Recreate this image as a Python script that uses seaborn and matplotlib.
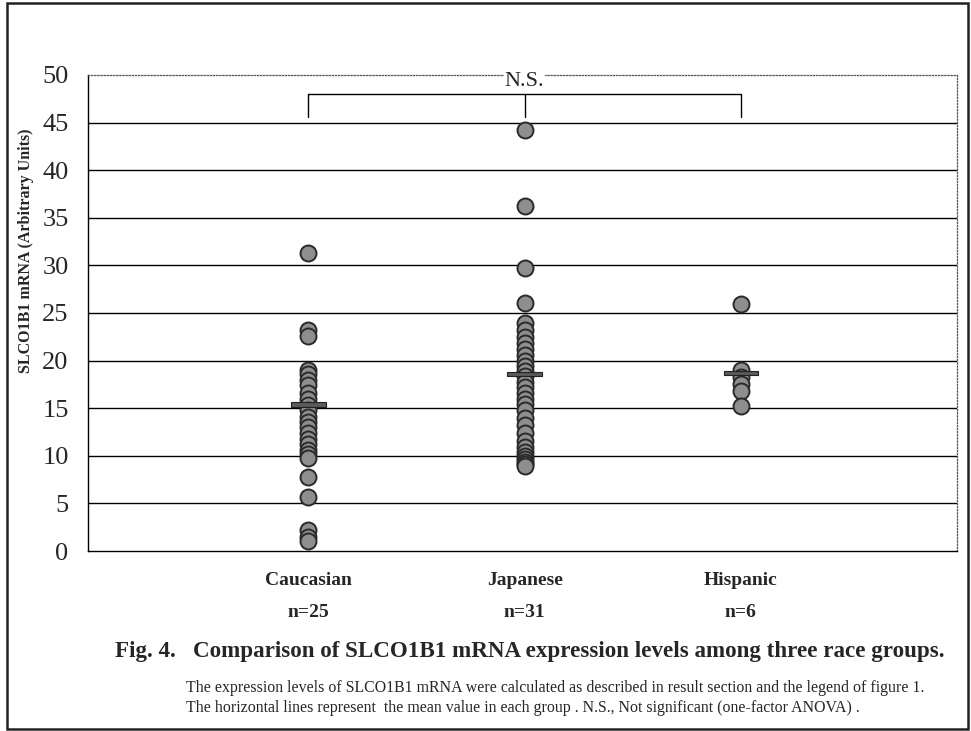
import matplotlib
matplotlib.use("Agg")
import matplotlib.pyplot as plt
import seaborn as sns
import pandas as pd
from matplotlib.patches import Rectangle

# Expression values per group (arbitrary units)
groups = ["Caucasian", "Japanese", "Hispanic"]
group_n = ["n=25", "n=31", "n=6"]
caucasian = [31.3, 23.2, 22.6, 19.0, 18.6, 18.0, 17.4, 16.6, 16.0, 15.3,
             14.8, 14.1, 13.5, 13.0, 12.4, 11.8, 11.2, 10.6, 10.2, 9.8,
             7.8, 5.7, 2.2, 1.5, 1.0]
japanese = [44.2, 36.2, 29.7, 26.0, 24.0, 23.2, 22.5, 21.8, 21.2, 20.6,
            20.0, 19.4, 18.9, 18.4, 17.8, 17.2, 16.6, 16.0, 15.4, 14.8,
            14.0, 13.2, 12.4, 11.6, 10.9, 10.4, 10.0, 9.7, 9.4, 9.1, 8.9]
hispanic = [25.9, 19.0, 18.3, 17.5, 16.8, 15.2]
group_means = [15.4, 18.6, 18.7]
y_ticks = [0, 5, 10, 15, 20, 25, 30, 35, 40, 45, 50]

df = pd.DataFrame({
    "group": ["Caucasian"] * len(caucasian) + ["Japanese"] * len(japanese)
             + ["Hispanic"] * len(hispanic),
    "value": caucasian + japanese + hispanic,
})

sns.set_theme(style="white")
plt.rcParams["font.family"] = ["Liberation Serif", "DejaVu Serif"]

fig = plt.figure(figsize=(9.71, 7.31), dpi=100)
ax = fig.add_axes([88 / 971, 1 - 551 / 731, (957 - 88) / 971, (551 - 75) / 731])

# horizontal grid lines at every tick
for t in y_ticks[1:-1]:
    ax.axhline(t, color="black", lw=1.0, zorder=1)

sns.stripplot(data=df, x="group", y="value", order=groups, jitter=False,
              size=11.5, color="#8e8e8e", edgecolor="#2a2a2a", linewidth=1.4,
              ax=ax, zorder=3)

# mean bars
for i, m in enumerate(group_means):
    ax.add_patch(Rectangle((i - 0.08, m - 0.25), 0.16, 0.5,
                           facecolor="#5a5a5a", edgecolor="#222222",
                           lw=0.8, zorder=5))

ax.set_ylim(0, 50)
ax.set_xlim(-1.02, 3.0)
ax.set_yticks(y_ticks)
ax.set_yticklabels([str(t) for t in y_ticks], fontsize=19)
ax.set_xticks(range(len(groups)))
ax.set_xticklabels([f"{g}\n{n}" for g, n in zip(groups, group_n)],
                   fontsize=14, fontweight="bold", linespacing=2.2)
ax.tick_params(axis="y", length=0, pad=14)
ax.tick_params(axis="x", length=0, pad=15)
ax.set_xlabel("")
ax.set_ylabel("SLCO1B1 mRNA (Arbitrary Units)", fontsize=11.5,
              fontweight="bold")
ax.yaxis.set_label_coords(-0.062, 0.63)

for side in ["left", "bottom"]:
    ax.spines[side].set_color("black")
    ax.spines[side].set_linewidth(1.0)
for side in ["top", "right"]:
    ax.spines[side].set_color("#555555")
    ax.spines[side].set_linewidth(0.9)
    ax.spines[side].set_linestyle((0, (1, 1.5)))

# significance bracket
ax.plot([0, 0, 2, 2], [45.6, 48.0, 48.0, 45.6], color="black", lw=1.0,
        clip_on=False, zorder=4)
ax.plot([1, 1], [48.0, 45.6], color="black", lw=1.0, zorder=4)
ax.text(1, 49.3, "N.S.", ha="center", va="center", fontsize=16,
        bbox=dict(facecolor="white", edgecolor="none", pad=0.5), zorder=4)

# caption
fig.text(115 / 971, 1 - 652 / 731,
         "Fig. 4.   Comparison of SLCO1B1 mRNA expression levels among three race groups.",
         fontsize=16.6, fontweight="bold", ha="left", va="center")
fig.text(186 / 971, 1 - 688 / 731,
         "The expression levels of SLCO1B1 mRNA were calculated as described in result section and the legend of figure 1.",
         fontsize=11.4, ha="left", va="center")
fig.text(186 / 971, 1 - 708 / 731,
         "The horizontal lines represent  the mean value in each group . N.S., Not significant (one-factor ANOVA) .",
         fontsize=11.4, ha="left", va="center")

# outer frame
fig.add_artist(Rectangle((7 / 971, 2 / 731), 961 / 971, 726 / 731,
                         transform=fig.transFigure, fill=False,
                         edgecolor="#222222", lw=1.8))

fig.savefig("out.png", dpi=100)
